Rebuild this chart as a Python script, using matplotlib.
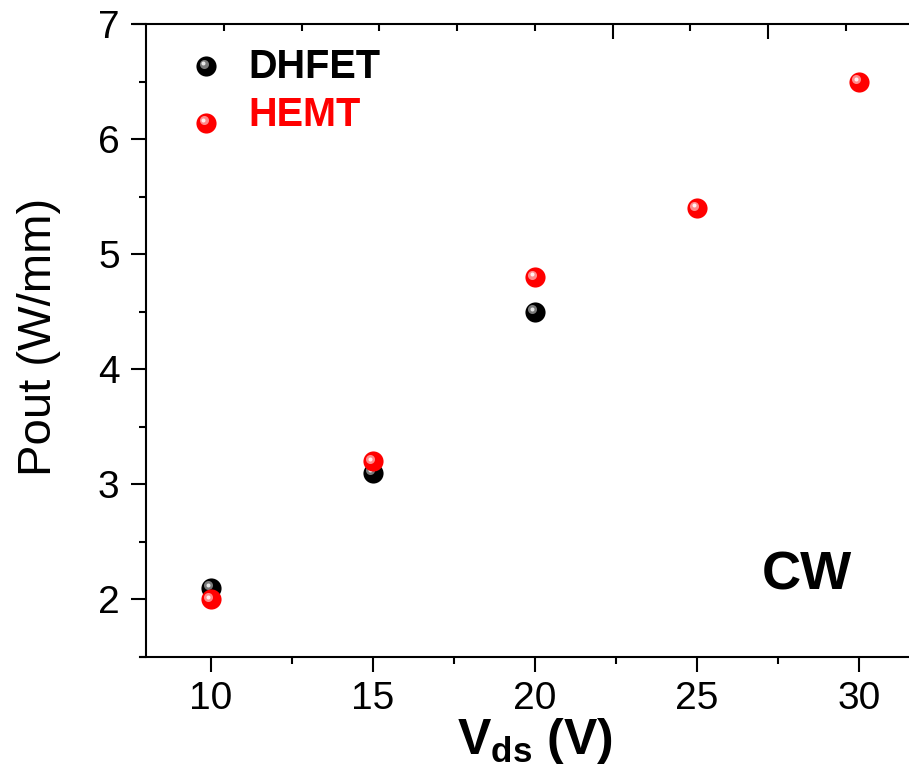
import numpy as np
import matplotlib
matplotlib.use("Agg")
import matplotlib.pyplot as plt
import matplotlib.transforms as mtransforms
from matplotlib.lines import Line2D
from matplotlib.legend_handler import HandlerBase

plt.rcParams["font.family"] = ["Liberation Sans", "DejaVu Sans"]
plt.rcParams["mathtext.fontset"] = "custom"
plt.rcParams["mathtext.rm"] = "Liberation Sans"
plt.rcParams["mathtext.bf"] = "Liberation Sans:bold"

# data
vds_dhfet = [10, 15, 20]
pout_dhfet = [2.1, 3.1, 4.5]
vds_hemt = [10, 15, 20, 25, 30]
pout_hemt = [2.0, 3.2, 4.8, 5.4, 6.5]

x_ticks = [10, 15, 20, 25, 30]
y_ticks = [2, 3, 4, 5, 6, 7]
top_major = [22.4, 27.2]
top_minor = [10.4, 12.8, 15.2, 17.6, 20.0, 24.8, 29.6]

fig = plt.figure(figsize=(9.09, 7.7), dpi=100)
ax = fig.add_axes([146 / 909, 113 / 770, 763 / 909, 633 / 770])


def shift(dx, dy):
    return mtransforms.ScaledTranslation(dx / 72, dy / 72, fig.dpi_scale_trans)


def spheres(ax, x, y, colors, ms=14.5):
    # base ball + two highlight layers offset up-left
    layers = [(ms, colors[0], 0, 0), (ms * 0.45, colors[1], -1.8, 1.8),
              (ms * 0.2, colors[2], -2.0, 2.0)]
    arts = []
    for size, c, dx, dy in layers:
        l, = ax.plot(x, y, "o", ms=size, mfc=c, mec="none", ls="none",
                     transform=ax.transData + shift(dx, dy))
        l.sphere_off = (dx, dy)
        arts.append(l)
    return tuple(arts)


class SphereHandler(HandlerBase):
    def __init__(self, dy=0):
        super().__init__()
        self.dy = dy

    def create_artists(self, legend, orig_handle, xdescent, ydescent,
                       width, height, fontsize, trans):
        cx = 0.5 * width - xdescent
        cy = 0.5 * height - ydescent
        out = []
        for l in orig_handle:
            dx, dy = l.sphere_off
            a = Line2D([cx], [cy], marker="o", ls="none", ms=l.get_markersize(),
                       mfc=l.get_markerfacecolor(), mec="none")
            a.set_transform(trans + shift(dx, dy + self.dy))
            out.append(a)
        return out


h1 = spheres(ax, vds_dhfet, pout_dhfet, ["black", "#7a7a7a", "#e8e8e8"])
h2 = spheres(ax, vds_hemt, pout_hemt, ["#ff0000", "#ff8a8a", "#fff0f0"])

ax.set_xlim(8, 31.55)
ax.set_ylim(1.5, 7)
ax.set_xticks(x_ticks)
ax.set_xticks(np.arange(12.5, 31, 5), minor=True)
ax.set_yticks(y_ticks)
ax.set_yticks(np.arange(1.5, 7, 0.5), minor=True)

ax.tick_params(axis="both", which="major", labelsize=28, width=1.5, length=11, pad=8)
ax.tick_params(axis="both", which="minor", width=1.5, length=5)
ax.tick_params(axis="x", which="major", pad=6.5)

ax.spines["right"].set_visible(False)
ax.spines["top"].set_visible(False)
for s in ["left", "bottom"]:
    ax.spines[s].set_linewidth(1.5)
ax.spines["bottom"].set_bounds(8 - 6 / 32.4, 31.55)

top = ax.twiny()
top.set_xlim(ax.get_xlim())
top.set_xticks(top_major)
top.set_xticks(top_minor, minor=True)
top.tick_params(axis="x", which="both", direction="in", labeltop=False, width=1.5)
top.tick_params(axis="x", which="major", length=11)
top.tick_params(axis="x", which="minor", length=5)
for s in ["left", "right", "bottom"]:
    top.spines[s].set_visible(False)
top.spines["top"].set_linewidth(1.5)
top.spines["top"].set_bounds(8 - 12 / 32.4, 31.55)

ax.set_xlabel(r"$\mathbf{V_{ds}}$ (V)", fontsize=36, fontweight="bold")
ax.xaxis.set_label_coords(0.51, -0.093)
ax.set_ylabel("Pout (W/mm)", fontsize=34)
ax.yaxis.set_label_coords(-0.112, 0.505)

ax.text(27.0, 2.09, "CW", fontsize=39, fontweight="bold", ha="left", va="baseline")

leg = ax.legend([h1, h2], ["DHFET", "HEMT"],
                handler_map={h1: SphereHandler(-1.3), h2: SphereHandler(-7.4)},
                loc="upper left", bbox_to_anchor=(0.058, 0.962), frameon=False,
                prop={"size": 28.5, "weight": "bold"}, labelcolor=["black", "red"],
                handlelength=0.8, handletextpad=0.66, labelspacing=0.26,
                borderpad=0, borderaxespad=0)

fig.savefig("out.png", dpi=100)
